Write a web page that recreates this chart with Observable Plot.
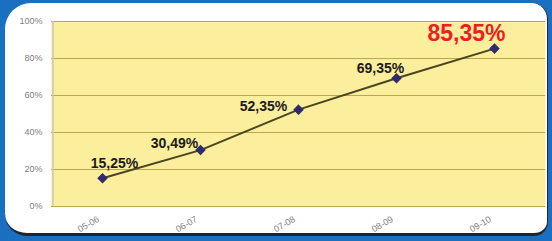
<!DOCTYPE html>
<html>
<head>
<meta charset="utf-8">
<script src="https://cdn.jsdelivr.net/npm/d3@7"></script>
<script src="https://cdn.jsdelivr.net/npm/@observablehq/plot@0.6"></script>
<style>
  html, body { margin: 0; padding: 0; background: #1b6fc0; }
  #wrap { position: relative; width: 552px; height: 241px; overflow: hidden; background: #1b6fc0; }
  #panel { position: absolute; left: 5px; top: 3px; width: 543px; height: 233px; background: #ffffff;
           border-radius: 26px 16px 14px 22px; border-bottom: 3px solid #1c2530; border-right: 1px solid #1c2530; box-sizing: border-box; }
  #chart { position: absolute; left: 0; top: 0; }
  #chart svg { background: transparent; }
</style>
</head>
<body>
<div id="wrap">
  <div id="panel"></div>
  <div id="chart"></div>
</div>
<script>
const seasons = ["05-06", "06-07", "07-08", "08-09", "09-10"];
const values = [0.1525, 0.3049, 0.5235, 0.6935, 0.8535];
const labels = ["15,25%", "30,49%", "52,35%", "69,35%", "85,35%"];
const yTicks = [0, 0.2, 0.4, 0.6, 0.8, 1.0];

const data = seasons.map((s, i) => ({season: s, value: values[i], label: labels[i], i}));
const last = data.filter(d => d.i === 4);

const labelStyle = {x: "season", y: "value", text: "label", fontSize: 14, fontWeight: "bold", fill: "#1a1a1a"};

const chart = Plot.plot({
  width: 552,
  height: 241,
  marginLeft: 51,
  marginRight: 7,
  marginTop: 21,
  marginBottom: 35,
  style: {background: "transparent", fontFamily: "Arial, 'Liberation Sans', sans-serif"},
  x: {type: "point", domain: seasons, padding: 0.5, label: null},
  y: {domain: [0, 1], label: null},
  marks: [
    Plot.frame({fill: "#fbee9c", stroke: null}),
    Plot.gridY(yTicks, {stroke: "#b9a84e", strokeOpacity: 1, strokeWidth: 1.2}),
    Plot.ruleX([seasons[0]], {dx: -49.5, stroke: "#c8c8b8", strokeWidth: 1.5}),
    Plot.axisX({tickSize: 0, tickRotate: -30, tickPadding: 9, dx: -4, dy: 3, fontSize: 9, fill: "#808080", label: null}),
    Plot.axisY({ticks: yTicks, tickFormat: d3.format(".0%"), tickSize: 0, tickPadding: 9, fontSize: 9, fill: "#808080", label: null}),
    Plot.line(data, {x: "season", y: "value", stroke: "#4a4420", strokeWidth: 2}),
    Plot.dot(data, {x: "season", y: "value", symbol: "diamond2", r: 3.8, fill: "#2e2c6e", stroke: "#2e2c6e"}),
    Plot.text([data[0]], {...labelStyle, dx: 12, dy: -15}),
    Plot.text([data[1]], {...labelStyle, dx: -26, dy: -7}),
    Plot.text([data[2]], {...labelStyle, dx: -35, dy: -3}),
    Plot.text([data[3]], {...labelStyle, dx: -16, dy: -10}),
    Plot.text(last, {x: "season", y: "value", text: "label", dx: -28, dy: -15, fontSize: 23, fontWeight: "bold", fill: "#ee1c24"})
  ]
});
document.getElementById("chart").appendChild(chart);
</script>
</body>
</html>
